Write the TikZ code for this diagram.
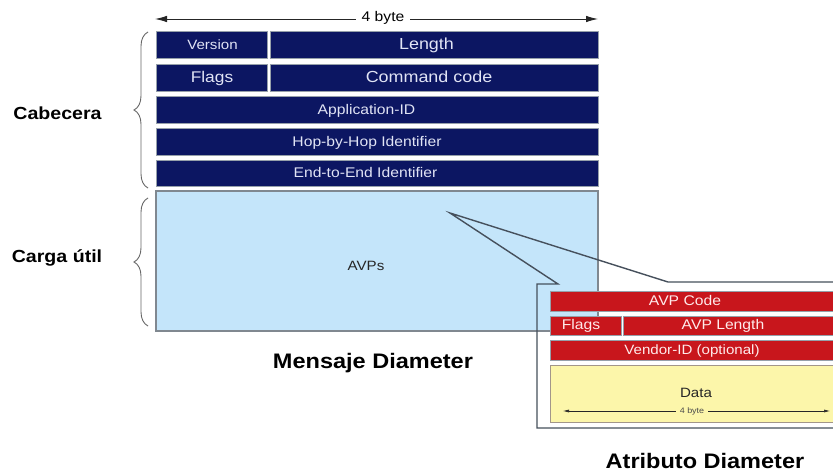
\documentclass[tikz,border=0pt]{standalone}
\usepackage{fontspec}
\setmainfont{Liberation Sans}[FakeStretch=1.12]
\usetikzlibrary{arrows.meta,decorations.pathreplacing}
\definecolor{navy}{RGB}{12,22,98}
\definecolor{navytxt}{RGB}{225,228,245}
\definecolor{avpred}{RGB}{200,22,28}
\definecolor{ltblue}{RGB}{196,229,250}
\definecolor{dyellow}{RGB}{252,246,170}
\definecolor{outl}{RGB}{70,80,92}
\definecolor{rowedge}{RGB}{150,160,170}
\begin{document}
\begin{tikzpicture}[x=1pt,y=-1pt,
  navyrow/.style={rectangle,fill=navy,draw=rowedge,line width=0.6pt,inner sep=0pt},
  redrow/.style={rectangle,fill=avpred,draw=rowedge,line width=0.6pt,inner sep=0pt},
  rowtxt/.style={text=navytxt,inner sep=0pt,text height=0.72em,text depth=0.04em,yshift=-1.5pt},
  redtxt/.style={text=white!92!red,inner sep=0pt,text height=0.72em,text depth=0.04em,yshift=-0.8pt},
  bigtxt/.style={font=\bfseries\fontsize{17.5}{18}\selectfont,anchor=base,inner sep=0pt},
  titletxt/.style={font=\bfseries\fontsize{21}{22}\selectfont,anchor=base,inner sep=0pt},
  brc/.style={draw=gray!80!black,line width=0.9pt,decorate,decoration={brace,amplitude=14pt}},
  dimarr/.style={draw=black!85,line width=0.9pt,{Latex[length=12pt,width=6.5pt]}-{Latex[length=12pt,width=6.5pt]}},
  smallarr/.style={draw=black!85,line width=0.6pt,{Latex[length=6pt,width=3pt]}-{Latex[length=6pt,width=3pt]}}
]
\useasboundingbox[fill=white] (0,0) rectangle (833,471);

% ---- top dimension arrow
\coordinate (ta) at (155,19);
\coordinate (tb) at (598,19);
\draw[dimarr] (ta) -- (tb);
\node[fill=white,inner xsep=6pt,inner ysep=1pt,font=\fontsize{14}{15}\selectfont] (topbyte) at (383,18) {4 byte};

% ---- header rows
\node[navyrow,minimum width=111pt,minimum height=27pt] (ver) at (211.5,44.5) {};
\node[navyrow,minimum width=328pt,minimum height=27pt] (len) at (434,44.5) {};
\node[navyrow,minimum width=111pt,minimum height=27pt] (flg) at (211.5,77.5) {};
\node[navyrow,minimum width=328pt,minimum height=27pt] (cmd) at (434,77.5) {};
\node[navyrow,minimum width=442pt,minimum height=27pt] (app) at (377,109.5) {};
\node[navyrow,minimum width=442pt,minimum height=27pt] (hop) at (377,141.5) {};
\node[navyrow,minimum width=442pt,minimum height=26pt] (e2e) at (377,173) {};

\node[rowtxt,font=\fontsize{13.5}{14}\selectfont] (tver) at (212.5,44.5) {Version};
\node[rowtxt,font=\fontsize{16}{17}\selectfont] (tlen) at (426.5,44.5) {Length};
\node[rowtxt,font=\fontsize{15.5}{16}\selectfont] (tflg) at (212,77.5) {Flags};
\node[rowtxt,font=\fontsize{16}{17}\selectfont] (tcmd) at (429,77.5) {Command code};
\node[rowtxt,font=\fontsize{14}{15}\selectfont] (tapp) at (366.5,109.5) {Application-ID};
\node[rowtxt,font=\fontsize{14}{15}\selectfont] (thop) at (367,141.5) {Hop-by-Hop Identifier};
\node[rowtxt,font=\fontsize{14}{15}\selectfont] (te2e) at (365.5,173) {End-to-End Identifier};

% ---- payload
\node[rectangle,fill=ltblue,draw=rowedge!85!black,line width=1.1pt,minimum width=442pt,minimum height=140pt,inner sep=0pt] (pay) at (377,261) {};
\node[inner sep=0pt,font=\fontsize{13.5}{14}\selectfont,text=black!85] (tavps) at (366,266) {AVPs};

% ---- braces and side labels
\coordinate (b1a) at (148,188);
\coordinate (b1b) at (148,32);
\coordinate (b2a) at (148,326);
\coordinate (b2b) at (148,198);
\draw[brc] (b1a) -- (b1b);
\draw[brc] (b2a) -- (b2b);
\node[bigtxt] (cab) at (57.5,119) {Cabecera};
\node[bigtxt] (carga) at (57,262) {Carga útil};

\node[titletxt] (mens) at (373,368) {Mensaje Diameter};

% ---- callout outline
\coordinate (c1) at (845,282);
\coordinate (c2) at (668,282);
\coordinate (tip) at (450,213);
\coordinate (c3) at (558,284);
\coordinate (c4) at (537,284);
\coordinate (c5) at (537,428);
\coordinate (c6) at (845,428);
\draw[outl,line width=1.4pt,line join=miter] (c1) -- (c2) -- (tip) -- (c3) -- (c4) -- (c5) -- (c6);

% ---- AVP rows
\node[redrow,minimum width=295pt,minimum height=20pt] (code) at (697.5,301) {};
\node[redrow,minimum width=71pt,minimum height=19pt] (aflg) at (585.5,325.5) {};
\node[redrow,minimum width=222pt,minimum height=19pt] (alen) at (734,325.5) {};
\node[redrow,minimum width=295pt,minimum height=20pt] (vend) at (697.5,350) {};
\node[rectangle,fill=dyellow,draw=rowedge!70!brown,line width=0.9pt,minimum width=295pt,minimum height=57pt,inner sep=0pt] (data) at (697.5,393.5) {};

\node[redtxt,font=\fontsize{14}{15}\selectfont] (tcode) at (685,301) {AVP Code};
\node[redtxt,font=\fontsize{14}{15}\selectfont] (taflg) at (581,325.5) {Flags};
\node[redtxt,font=\fontsize{14}{15}\selectfont] (talen) at (723,325.5) {AVP Length};
\node[redtxt,font=\fontsize{13.5}{14}\selectfont] (tvend) at (692,350) {Vendor-ID (optional)};
\node[inner sep=0pt,font=\fontsize{13.5}{14}\selectfont,text=black!85] (tdata) at (696,393) {Data};

\coordinate (da) at (563,411);
\coordinate (db) at (830,411);
\draw[smallarr] (da) -- (db);
\node[fill=dyellow,inner xsep=4pt,inner ysep=0.5pt,font=\fontsize{8}{9}\selectfont,text=black!70] (dbyte) at (692,411) {4 byte};

\node[titletxt] (atr) at (705,468) {Atributo Diameter};
\end{tikzpicture}
\end{document}
